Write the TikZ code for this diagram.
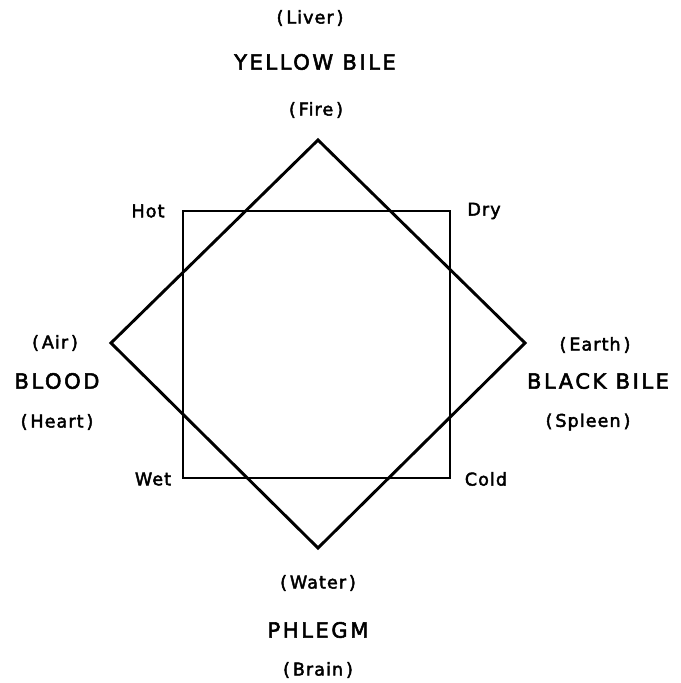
\documentclass[tikz,border=0pt]{standalone}
\usepackage{fontspec}
\setmainfont{DejaVu Sans}[LetterSpace=6, FakeBold=2.5]
\newfontfamily\humfont{DejaVu Sans}[LetterSpace=12, FakeBold=2.5]
\usetikzlibrary{positioning}

\begin{document}
\begin{tikzpicture}[x=0.03cm, y=-0.03cm,
    lbl/.style={font=\fontsize{15}{18}\selectfont, inner sep=1pt},
    hum/.style={font=\humfont\fontsize{18}{20}\selectfont, inner sep=1pt},
    qual/.style={font=\fontsize{15}{17}\selectfont, inner sep=1pt},
    sq/.style={draw=black, line width=1.3pt},
    dia/.style={draw=black, line width=2.5pt, line join=miter}
  ]
  \useasboundingbox (0,0) rectangle (680,683);
  % square of the qualities
  \coordinate (hot) at (183,211);
  \coordinate (dry) at (450,211);
  \coordinate (cold) at (450,478);
  \coordinate (wet) at (183,478);
  \draw[sq] (hot) -- (dry) -- (cold) -- (wet) -- cycle;
  % diamond of the elements
  \coordinate (fire) at (318,140);
  \coordinate (earth) at (525,343);
  \coordinate (water) at (318,548);
  \coordinate (air) at (111,343);
  \draw[dia] (fire) -- (earth) -- (water) -- (air) -- cycle;
  % qualities
  \node[qual] (hotlbl) at (148,211) {Hot};
  \node[qual] (drylbl) at (484,211) {Dry};
  \node[qual] (wetlbl) at (153,479) {Wet};
  \node[qual] (coldlbl) at (486,479) {Cold};
  % yellow bile
  \node[lbl] (liver) at (310,18) {(\,Liver\,)};
  \node[hum] (yellow) at (315,62) {YELLOW BILE};
  \node[lbl] (firelbl) at (316,110) {(\,Fire\,)};
  % blood
  \node[lbl] (airlbl) at (55,343) {(\,Air\,)};
  \node[hum] (blood) at (57,381) {BLOOD};
  \node[lbl] (heart) at (57,422) {(\,Heart\,)};
  % black bile
  \node[lbl] (earthlbl) at (595,345) {(\,Earth\,)};
  \node[hum] (black) at (598,381) {BLACK BILE};
  \node[lbl] (spleen) at (588,422) {(\,Spleen\,)};
  % phlegm
  \node[lbl] (waterlbl) at (318,583) {(\,Water\,)};
  \node[hum] (phlegm) at (318,630) {PHLEGM};
  \node[lbl] (brain) at (318,670) {(\,Brain\,)};
\end{tikzpicture}
\end{document}
